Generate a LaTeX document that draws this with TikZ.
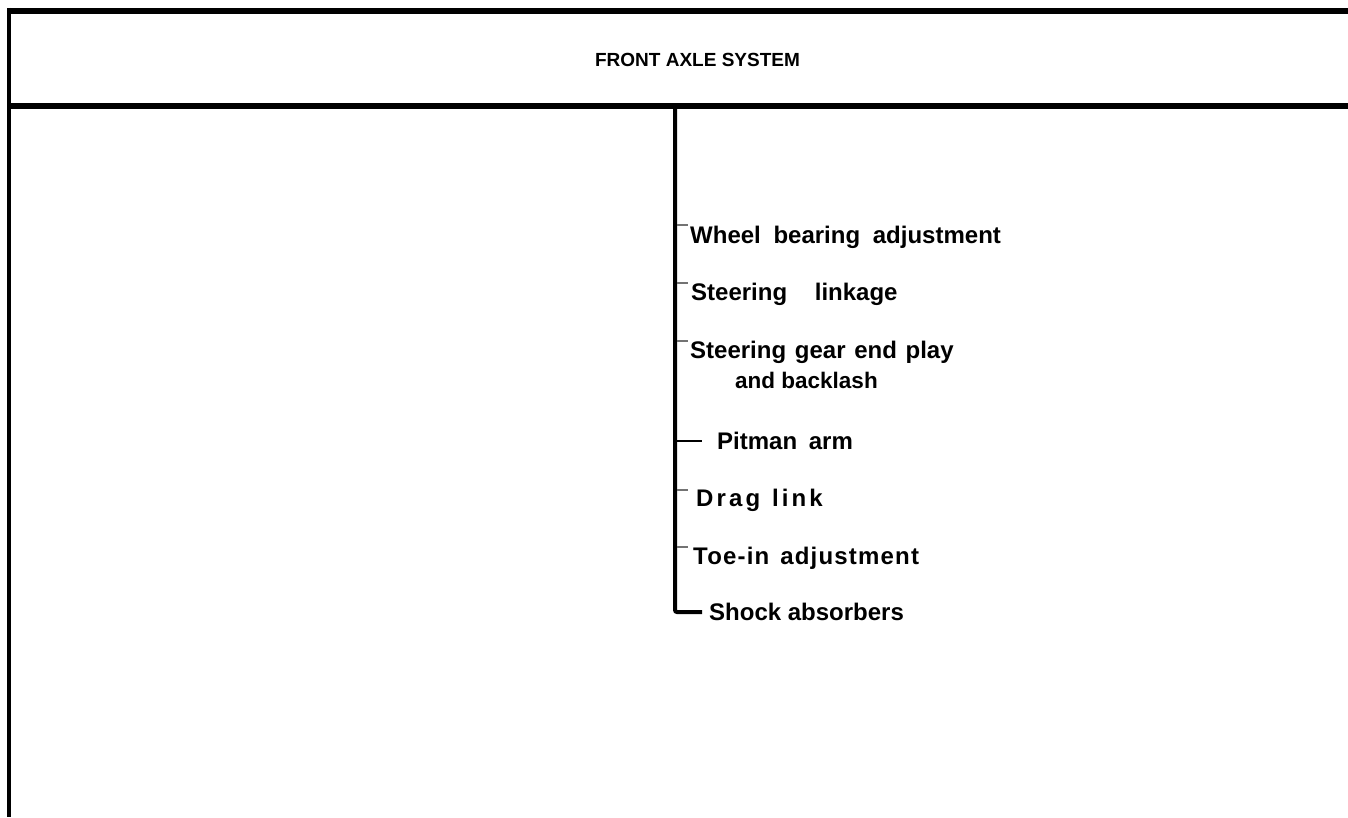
\documentclass[tikz,border=0pt]{standalone}
\usepackage{fontspec}
\setmainfont{Liberation Sans}
\newfontfamily\dragfont[LetterSpace=13]{Liberation Sans}
\newfontfamily\toefont[LetterSpace=5]{Liberation Sans}
\begin{document}
\begin{tikzpicture}[x=1bp,y=-1bp,
  frameline/.style={line width=6bp},
  sideline/.style={line width=4bp},
  trunkline/.style={line width=4bp, rounded corners=2bp},
  tickline/.style={line width=1.2bp, draw=black!55},
  pitline/.style={line width=2.8bp},
  lab/.style={anchor=base west, inner sep=0pt, font=\fontsize{24bp}{28bp}\selectfont\bfseries},
  smalllab/.style={anchor=base west, inner sep=0pt, font=\fontsize{22.5bp}{26bp}\selectfont\bfseries},
  draglab/.style={anchor=base west, inner sep=0pt, font=\fontsize{24bp}{28bp}\dragfont\bfseries},
  toelab/.style={anchor=base west, inner sep=0pt, font=\fontsize{24bp}{28bp}\toefont\bfseries},
  titlelab/.style={anchor=base, inner sep=0pt, font=\fontsize{19bp}{23bp}\selectfont\bfseries}]
\useasboundingbox (0,0) rectangle (1348,817);
% frame
\coordinate (tl) at (7,11);
\coordinate (tr) at (1348,11);
\coordinate (ml) at (7,106);
\coordinate (mr) at (1348,106);
\coordinate (lt) at (9,8);
\coordinate (lb) at (9,817);
\draw[frameline] (tl) -- (tr);
\draw[frameline] (ml) -- (mr);
\draw[sideline] (lt) -- (lb);
% title
\node[titlelab] (title) at (697.5,67) {FRONT AXLE SYSTEM};
% labels
\node[lab] (wheel) at (690,243) {Wheel\hspace{6bp} bearing\hspace{6bp} adjustment};
\node[lab] (link) at (691,300) {Steering\hspace{21bp} linkage};
\node[lab] (gear) at (690,358) {Steering\hspace{2bp} gear\hspace{2bp} end\hspace{2bp} play};
\node[smalllab] (back) at (735,388) {and backlash};
\node[lab] (pit) at (717,449) {Pitman\hspace{5bp} arm};
\node[draglab] (drag) at (696,506) {Drag\hspace{2bp} link};
\node[toelab] (toe) at (693,564) {Toe-in\hspace{3bp} adjustment};
\node[lab] (shock) at (709,620) {Shock absorbers};
% trunk
\coordinate (ttop) at (675,106);
\coordinate (tbot) at (675,612);
\coordinate (tend) at (702,612);
\draw[trunkline] (ttop) -- (tbot) -- (tend);
% ticks
\coordinate (a1) at (677,225); \coordinate (b1) at (688,225);
\coordinate (a2) at (677,283); \coordinate (b2) at (688,283);
\coordinate (a3) at (677,341); \coordinate (b3) at (688,341);
\coordinate (a4) at (677,441); \coordinate (b4) at (702,441);
\coordinate (a5) at (677,490); \coordinate (b5) at (688,490);
\coordinate (a6) at (677,547); \coordinate (b6) at (688,547);
\draw[tickline] (a1) -- (b1);
\draw[tickline] (a2) -- (b2);
\draw[tickline] (a3) -- (b3);
\draw[pitline] (a4) -- (b4);
\draw[tickline] (a5) -- (b5);
\draw[tickline] (a6) -- (b6);
\end{tikzpicture}
\end{document}
